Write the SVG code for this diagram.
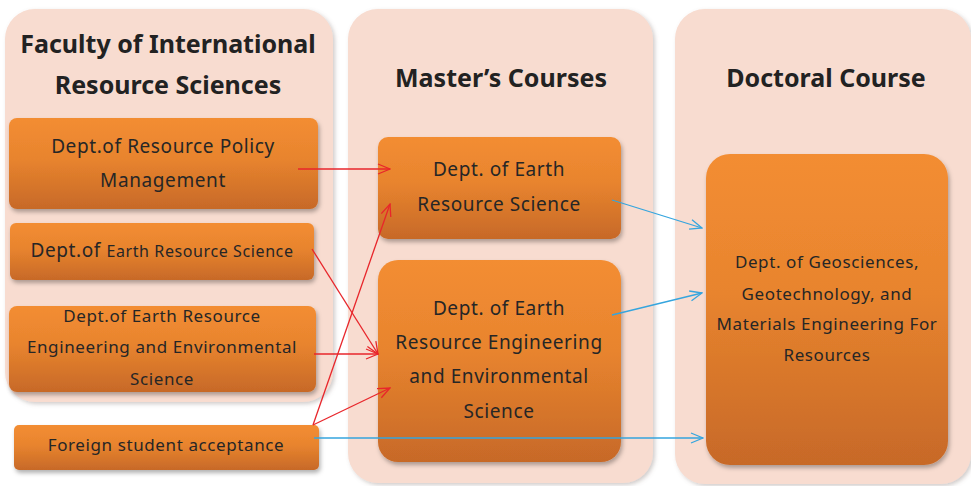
<svg xmlns="http://www.w3.org/2000/svg" width="971" height="486" viewBox="0 0 971 486">
<defs>
<linearGradient id="og" x1="0" y1="0" x2="0" y2="1">
<stop offset="0" stop-color="#F38D32"/>
<stop offset="0.45" stop-color="#E8842E"/>
<stop offset="1" stop-color="#C76928"/>
</linearGradient>
<filter id="sh" x="-10%" y="-10%" width="125%" height="130%">
<feDropShadow dx="1.5" dy="3" stdDeviation="2" flood-color="#000" flood-opacity="0.3"/>
</filter>
<filter id="psh" x="-10%" y="-10%" width="125%" height="125%">
<feDropShadow dx="2" dy="2" stdDeviation="2" flood-color="#7a6a66" flood-opacity="0.35"/>
</filter>
<marker id="ar" markerWidth="14" markerHeight="12" refX="13" refY="6" orient="auto" markerUnits="userSpaceOnUse">
<path d="M1,1 L13,6 L1,11" fill="none" stroke="#E8262B" stroke-width="1.3"/>
</marker>
<marker id="ab" markerWidth="14" markerHeight="12" refX="13" refY="6" orient="auto" markerUnits="userSpaceOnUse">
<path d="M1,1 L13,6 L1,11" fill="none" stroke="#35A5DE" stroke-width="1.3"/>
</marker>
</defs>
<style>
.panel{fill:#F8DCD0;}
.node{fill:url(#og);filter:url(#sh);}
.t{font-family:"Noto Sans","DejaVu Sans",sans-serif;fill:#262626;text-anchor:middle;letter-spacing:0.6px;}
.h{font-family:"Noto Sans","DejaVu Sans",sans-serif;font-weight:bold;fill:#222;text-anchor:middle;font-size:25px;}
.r{stroke:#E8262B;stroke-width:1.3;fill:none;marker-end:url(#ar);}
.b{stroke:#35A5DE;stroke-width:1.3;fill:none;marker-end:url(#ab);}
</style>
<rect width="971" height="486" fill="#fff"/>
<g id="panel-faculty">
<rect class="panel" x="5" y="9" width="328" height="393" rx="30" filter="url(#psh)"/>
<text class="h" x="168" y="53">Faculty of International</text>
<text class="h" x="168" y="94">Resource Sciences</text>
</g>
<g id="panel-master">
<rect class="panel" x="348" y="9" width="305" height="474" rx="30" filter="url(#psh)"/>
<text class="h" x="501" y="87">Master’s Courses</text>
</g>
<g id="panel-doctoral">
<rect class="panel" x="675" y="9" width="296" height="475" rx="30" filter="url(#psh)"/>
<text class="h" x="826" y="87">Doctoral Course</text>
</g>
<g id="node-policy">
<rect class="node" x="9" y="118" width="309" height="91" rx="8"/>
<text class="t" x="163" y="153" font-size="19">Dept.of Resource Policy</text>
<text class="t" x="163" y="187" font-size="19">Management</text>
</g>
<g id="node-ers">
<rect class="node" x="10" y="223" width="304" height="57" rx="6"/>
<text class="t" x="162" y="257" font-size="19">Dept.of <tspan font-size="16">Earth Resource Science</tspan></text>
</g>
<g id="node-eree">
<rect class="node" x="9" y="306" width="307" height="86" rx="8"/>
<text class="t" x="162" y="322" font-size="17">Dept.of Earth Resource</text>
<text class="t" x="162" y="353" font-size="17">Engineering and Environmental</text>
<text class="t" x="162" y="385" font-size="17">Science</text>
</g>
<g id="node-foreign">
<rect class="node" x="14" y="425" width="305" height="45" rx="5"/>
<text class="t" x="166" y="451" font-size="17">Foreign student acceptance</text>
</g>
<g id="node-m-ers">
<rect class="node" x="378" y="137" width="243" height="102" rx="10"/>
<text class="t" x="499" y="176" font-size="19">Dept. of Earth</text>
<text class="t" x="499" y="211" font-size="19">Resource Science</text>
</g>
<g id="node-m-eree">
<rect class="node" x="378" y="260" width="243" height="202" rx="20"/>
<text class="t" x="499" y="315" font-size="19">Dept. of Earth</text>
<text class="t" x="499" y="349" font-size="19">Resource Engineering</text>
<text class="t" x="499" y="383" font-size="19">and Environmental</text>
<text class="t" x="499" y="418" font-size="19">Science</text>
</g>
<g id="node-doctoral">
<rect class="node" x="706" y="154" width="242" height="311" rx="24"/>
<text class="t" x="827" y="268" font-size="17">Dept. of Geosciences,</text>
<text class="t" x="827" y="300" font-size="17">Geotechnology, and</text>
<text class="t" x="827" y="330" font-size="17">Materials Engineering For</text>
<text class="t" x="827" y="361" font-size="17">Resources</text>
</g>
<g id="connectors">
<line class="r" x1="298" y1="169" x2="390" y2="169"/>
<line class="r" x1="312" y1="249" x2="378" y2="354"/>
<line class="r" x1="314" y1="354" x2="378" y2="354"/>
<line class="r" x1="313" y1="425" x2="390" y2="204"/>
<line class="r" x1="313" y1="425" x2="390" y2="388"/>
<line class="b" x1="612" y1="200" x2="702" y2="228"/>
<line class="b" x1="612" y1="315" x2="702" y2="293"/>
<line class="b" x1="314" y1="438" x2="703" y2="438"/>
</g>
</svg>
